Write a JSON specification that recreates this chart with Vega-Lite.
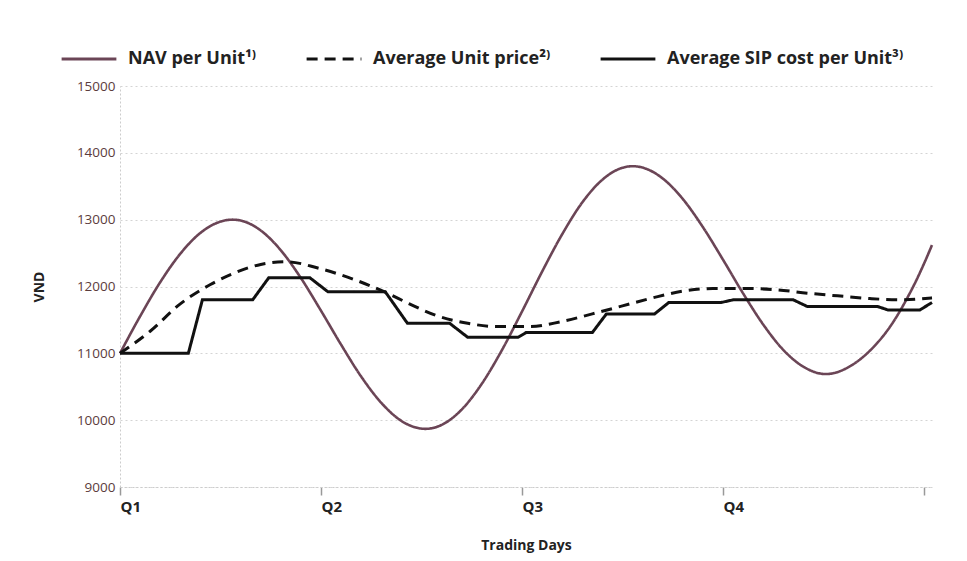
{
  "$schema": "https://vega.github.io/schema/vega-lite/v6.json",
  "width": 812,
  "height": 401,
  "autosize": {"type": "none"},
  "padding": {"left": 120, "top": 86, "right": 35, "bottom": 74},
  "background": "white",
  "config": {"view": {"stroke": null}, "font": "Open Sans"},
  "data": {
    "values": [
      {"s": "NAV per Unit¹⁾", "day": 0, "vnd": 11000},
      {"s": "NAV per Unit¹⁾", "day": 0.1, "vnd": 11554},
      {"s": "NAV per Unit¹⁾", "day": 0.2, "vnd": 12064},
      {"s": "NAV per Unit¹⁾", "day": 0.3, "vnd": 12490},
      {"s": "NAV per Unit¹⁾", "day": 0.4, "vnd": 12802},
      {"s": "NAV per Unit¹⁾", "day": 0.5, "vnd": 12971},
      {"s": "NAV per Unit¹⁾", "day": 0.56, "vnd": 13000},
      {"s": "NAV per Unit¹⁾", "day": 0.6, "vnd": 12987},
      {"s": "NAV per Unit¹⁾", "day": 0.7, "vnd": 12839},
      {"s": "NAV per Unit¹⁾", "day": 0.8, "vnd": 12542},
      {"s": "NAV per Unit¹⁾", "day": 0.9, "vnd": 12127},
      {"s": "NAV per Unit¹⁾", "day": 1.0, "vnd": 11638},
      {"s": "NAV per Unit¹⁾", "day": 1.1, "vnd": 11130},
      {"s": "NAV per Unit¹⁾", "day": 1.2, "vnd": 10652},
      {"s": "NAV per Unit¹⁾", "day": 1.3, "vnd": 10260},
      {"s": "NAV per Unit¹⁾", "day": 1.4, "vnd": 9989},
      {"s": "NAV per Unit¹⁾", "day": 1.52, "vnd": 9870},
      {"s": "NAV per Unit¹⁾", "day": 1.6, "vnd": 9929},
      {"s": "NAV per Unit¹⁾", "day": 1.7, "vnd": 10159},
      {"s": "NAV per Unit¹⁾", "day": 1.8, "vnd": 10544},
      {"s": "NAV per Unit¹⁾", "day": 1.9, "vnd": 11047},
      {"s": "NAV per Unit¹⁾", "day": 2.0, "vnd": 11625},
      {"s": "NAV per Unit¹⁾", "day": 2.1, "vnd": 12222},
      {"s": "NAV per Unit¹⁾", "day": 2.2, "vnd": 12782},
      {"s": "NAV per Unit¹⁾", "day": 2.3, "vnd": 13258},
      {"s": "NAV per Unit¹⁾", "day": 2.4, "vnd": 13598},
      {"s": "NAV per Unit¹⁾", "day": 2.5, "vnd": 13777},
      {"s": "NAV per Unit¹⁾", "day": 2.55, "vnd": 13800},
      {"s": "NAV per Unit¹⁾", "day": 2.6, "vnd": 13779},
      {"s": "NAV per Unit¹⁾", "day": 2.7, "vnd": 13617},
      {"s": "NAV per Unit¹⁾", "day": 2.8, "vnd": 13310},
      {"s": "NAV per Unit¹⁾", "day": 2.9, "vnd": 12889},
      {"s": "NAV per Unit¹⁾", "day": 3.0, "vnd": 12402},
      {"s": "NAV per Unit¹⁾", "day": 3.1, "vnd": 11898},
      {"s": "NAV per Unit¹⁾", "day": 3.2, "vnd": 11432},
      {"s": "NAV per Unit¹⁾", "day": 3.3, "vnd": 11052},
      {"s": "NAV per Unit¹⁾", "day": 3.4, "vnd": 10800},
      {"s": "NAV per Unit¹⁾", "day": 3.51, "vnd": 10690},
      {"s": "NAV per Unit¹⁾", "day": 3.56, "vnd": 10710},
      {"s": "NAV per Unit¹⁾", "day": 3.61, "vnd": 10770},
      {"s": "NAV per Unit¹⁾", "day": 3.66, "vnd": 10860},
      {"s": "NAV per Unit¹⁾", "day": 3.71, "vnd": 10980},
      {"s": "NAV per Unit¹⁾", "day": 3.76, "vnd": 11130},
      {"s": "NAV per Unit¹⁾", "day": 3.81, "vnd": 11310},
      {"s": "NAV per Unit¹⁾", "day": 3.86, "vnd": 11530},
      {"s": "NAV per Unit¹⁾", "day": 3.91, "vnd": 11790},
      {"s": "NAV per Unit¹⁾", "day": 3.96, "vnd": 12080},
      {"s": "NAV per Unit¹⁾", "day": 4.0, "vnd": 12340},
      {"s": "NAV per Unit¹⁾", "day": 4.04, "vnd": 12620},

      {"s": "Average Unit price²⁾", "day": 0, "vnd": 11000},
      {"s": "Average Unit price²⁾", "day": 0.15, "vnd": 11330},
      {"s": "Average Unit price²⁾", "day": 0.3, "vnd": 11740},
      {"s": "Average Unit price²⁾", "day": 0.45, "vnd": 12030},
      {"s": "Average Unit price²⁾", "day": 0.56, "vnd": 12190},
      {"s": "Average Unit price²⁾", "day": 0.7, "vnd": 12330},
      {"s": "Average Unit price²⁾", "day": 0.83, "vnd": 12370},
      {"s": "Average Unit price²⁾", "day": 0.98, "vnd": 12280},
      {"s": "Average Unit price²⁾", "day": 1.16, "vnd": 12110},
      {"s": "Average Unit price²⁾", "day": 1.33, "vnd": 11900},
      {"s": "Average Unit price²⁾", "day": 1.44, "vnd": 11740},
      {"s": "Average Unit price²⁾", "day": 1.58, "vnd": 11560},
      {"s": "Average Unit price²⁾", "day": 1.73, "vnd": 11450},
      {"s": "Average Unit price²⁾", "day": 1.87, "vnd": 11400},
      {"s": "Average Unit price²⁾", "day": 2.04, "vnd": 11400},
      {"s": "Average Unit price²⁾", "day": 2.19, "vnd": 11470},
      {"s": "Average Unit price²⁾", "day": 2.35, "vnd": 11590},
      {"s": "Average Unit price²⁾", "day": 2.5, "vnd": 11710},
      {"s": "Average Unit price²⁾", "day": 2.65, "vnd": 11830},
      {"s": "Average Unit price²⁾", "day": 2.8, "vnd": 11930},
      {"s": "Average Unit price²⁾", "day": 2.95, "vnd": 11970},
      {"s": "Average Unit price²⁾", "day": 3.12, "vnd": 11970},
      {"s": "Average Unit price²⁾", "day": 3.27, "vnd": 11950},
      {"s": "Average Unit price²⁾", "day": 3.42, "vnd": 11900},
      {"s": "Average Unit price²⁾", "day": 3.57, "vnd": 11860},
      {"s": "Average Unit price²⁾", "day": 3.73, "vnd": 11820},
      {"s": "Average Unit price²⁾", "day": 3.88, "vnd": 11800},
      {"s": "Average Unit price²⁾", "day": 4.04, "vnd": 11830},

      {"s": "Average SIP cost per Unit³⁾", "day": 0, "vnd": 11000},
      {"s": "Average SIP cost per Unit³⁾", "day": 0.34, "vnd": 11000},
      {"s": "Average SIP cost per Unit³⁾", "day": 0.41, "vnd": 11800},
      {"s": "Average SIP cost per Unit³⁾", "day": 0.66, "vnd": 11800},
      {"s": "Average SIP cost per Unit³⁾", "day": 0.74, "vnd": 12130},
      {"s": "Average SIP cost per Unit³⁾", "day": 0.945, "vnd": 12130},
      {"s": "Average SIP cost per Unit³⁾", "day": 1.035, "vnd": 11920},
      {"s": "Average SIP cost per Unit³⁾", "day": 1.32, "vnd": 11920},
      {"s": "Average SIP cost per Unit³⁾", "day": 1.43, "vnd": 11450},
      {"s": "Average SIP cost per Unit³⁾", "day": 1.64, "vnd": 11450},
      {"s": "Average SIP cost per Unit³⁾", "day": 1.73, "vnd": 11240},
      {"s": "Average SIP cost per Unit³⁾", "day": 1.98, "vnd": 11240},
      {"s": "Average SIP cost per Unit³⁾", "day": 2.02, "vnd": 11310},
      {"s": "Average SIP cost per Unit³⁾", "day": 2.35, "vnd": 11310},
      {"s": "Average SIP cost per Unit³⁾", "day": 2.42, "vnd": 11590},
      {"s": "Average SIP cost per Unit³⁾", "day": 2.66, "vnd": 11590},
      {"s": "Average SIP cost per Unit³⁾", "day": 2.73, "vnd": 11760},
      {"s": "Average SIP cost per Unit³⁾", "day": 2.99, "vnd": 11760},
      {"s": "Average SIP cost per Unit³⁾", "day": 3.05, "vnd": 11800},
      {"s": "Average SIP cost per Unit³⁾", "day": 3.35, "vnd": 11800},
      {"s": "Average SIP cost per Unit³⁾", "day": 3.42, "vnd": 11700},
      {"s": "Average SIP cost per Unit³⁾", "day": 3.77, "vnd": 11700},
      {"s": "Average SIP cost per Unit³⁾", "day": 3.82, "vnd": 11650},
      {"s": "Average SIP cost per Unit³⁾", "day": 3.98, "vnd": 11650},
      {"s": "Average SIP cost per Unit³⁾", "day": 4.04, "vnd": 11760}
    ]
  },
  "encoding": {
    "x": {
      "field": "day",
      "type": "quantitative",
      "scale": {"domain": [0, 4.04], "nice": false, "zero": false},
      "axis": {
        "title": "Trading Days",
        "values": [0, 1, 2, 3, 4],
        "labelExpr": "datum.value == 0 ? 'Q1' : datum.value == 1 ? 'Q2' : datum.value == 2 ? 'Q3' : datum.value == 3 ? 'Q4' : ''",
        "labelAlign": "left",
        "labelFlush": false,
        "labelFontSize": 15,
        "labelFontWeight": "bold",
        "labelColor": "#222222",
        "labelPadding": 4,
        "tickSize": 8,
        "tickColor": "#999999",
        "tickWidth": 1.5,
        "domainColor": "#cccccc",
        "domainDash": [2, 2],
        "grid": false,
        "titleFontSize": 14,
        "titleFontWeight": "bold",
        "titleColor": "#222222",
        "titlePadding": 24
      }
    },
    "y": {
      "field": "vnd",
      "type": "quantitative",
      "scale": {"domain": [9000, 15000], "nice": false, "zero": false},
      "axis": {
        "title": "VND",
        "titleFontSize": 14,
        "titleFontWeight": "bold",
        "titleColor": "#222222",
        "titlePadding": 30,
        "values": [9000, 10000, 11000, 12000, 13000, 14000, 15000],
        "format": "d",
        "labelFontSize": 13.5,
        "labelColor": "#5b3c3c",
        "labelPadding": 5,
        "ticks": false,
        "domainColor": "#cccccc",
        "domainDash": [2, 2],
        "grid": true,
        "gridColor": "#d4d4d4",
        "gridDash": [2, 3]
      }
    },
    "color": {
      "field": "s",
      "type": "nominal",
      "scale": {
        "domain": ["NAV per Unit¹⁾", "Average Unit price²⁾", "Average SIP cost per Unit³⁾"],
        "range": ["#6b4556", "#111111", "#111111"]
      },
      "legend": {
        "title": null,
        "orient": "none",
        "legendX": -60,
        "legendY": -56,
        "direction": "horizontal",
        "columns": 3,
        "padding": 0,
        "symbolType": "stroke",
        "symbolSize": 3000,
        "symbolStrokeWidth": 3,
        "labelFontSize": 18,
        "labelFontWeight": "bold",
        "labelColor": "#222222",
        "labelLimit": 400,
        "labelOffset": 10,
        "columnPadding": 43
      }
    },
    "strokeDash": {
      "field": "s",
      "type": "nominal",
      "scale": {
        "domain": ["NAV per Unit¹⁾", "Average Unit price²⁾", "Average SIP cost per Unit³⁾"],
        "range": [[1, 0], [11, 7], [1, 0]]
      },
      "legend": {
        "title": null,
        "orient": "none",
        "legendX": -60,
        "legendY": -56,
        "direction": "horizontal",
        "columns": 3,
        "padding": 0,
        "symbolType": "stroke",
        "symbolSize": 3000,
        "symbolStrokeWidth": 3,
        "labelFontSize": 18,
        "labelFontWeight": "bold",
        "labelColor": "#222222",
        "labelLimit": 400,
        "labelOffset": 10,
        "columnPadding": 43
      }
    }
  },
  "layer": [
    {
      "transform": [{"filter": {"field": "s", "oneOf": ["NAV per Unit¹⁾"]}}],
      "mark": {"type": "line", "strokeWidth": 2.6, "interpolate": "monotone", "clip": false}
    },
    {
      "transform": [{"filter": {"field": "s", "oneOf": ["Average Unit price²⁾"]}}],
      "mark": {"type": "line", "strokeWidth": 3, "interpolate": "monotone", "clip": false}
    },
    {
      "transform": [{"filter": {"field": "s", "oneOf": ["Average SIP cost per Unit³⁾"]}}],
      "mark": {"type": "line", "strokeWidth": 3, "interpolate": "linear", "clip": false}
    }
  ]
}
